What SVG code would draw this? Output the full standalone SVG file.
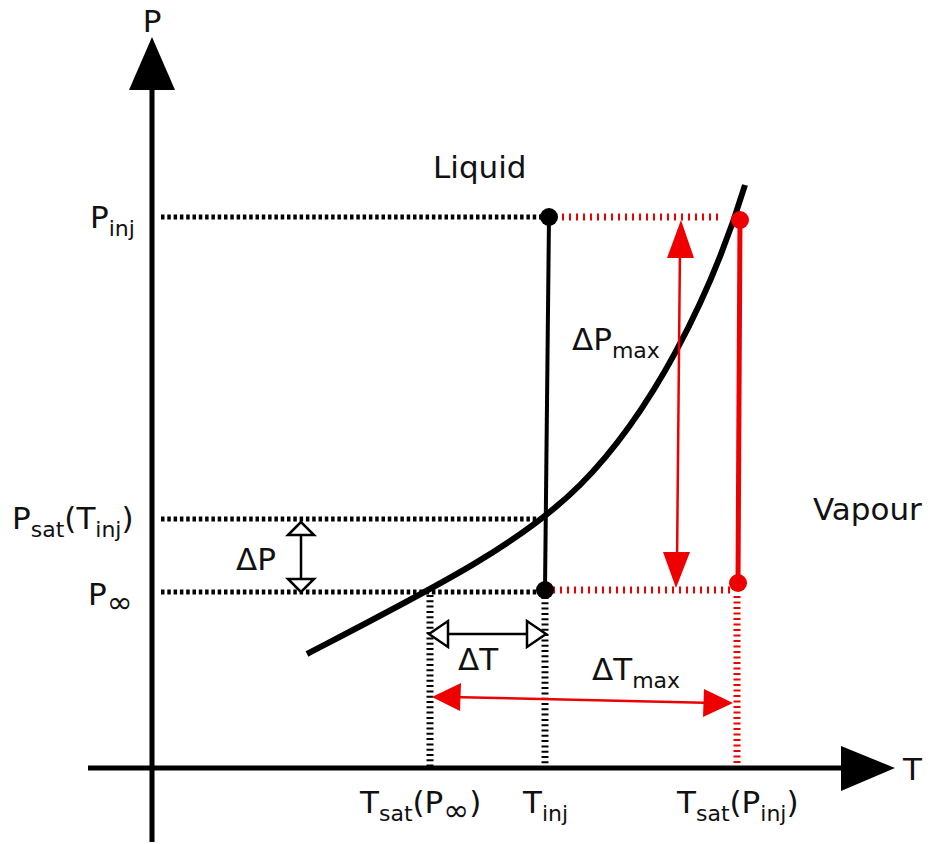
<svg xmlns="http://www.w3.org/2000/svg" width="930" height="844" viewBox="0 0 930 844">
<style>
text{font-family:"DejaVu Sans","Verdana",sans-serif;font-size:31px;fill:#111}
.sub{font-size:22px}
.inf{font-size:31px}
.dotk{stroke:#000;stroke-width:5;stroke-dasharray:3.5 2.8;fill:none}
.dotkv{stroke:#000;stroke-width:7;stroke-dasharray:2 3.3;fill:none}
.dotr{stroke:#e00;stroke-width:7;stroke-dasharray:2 5;fill:none}
.dotrv{stroke:#e00;stroke-width:7;stroke-dasharray:2 3.5;fill:none}
.hollow{fill:#fff;stroke:#000;stroke-width:2.5}
.red{fill:#e00;stroke:none}
</style>
<rect width="930" height="844" fill="#fff"/>
<g id="axes">
<line x1="152" y1="88" x2="152" y2="842" stroke="#000" stroke-width="5"/>
<polygon points="152,37 129,90 175,90" fill="#000"/>
<line x1="88" y1="768" x2="845" y2="768" stroke="#000" stroke-width="5"/>
<polygon points="895,768 841,746 841,791" fill="#000"/>
<text x="152" y="32" text-anchor="middle">P</text>
<text x="903" y="780">T</text>
</g>
<g id="guides">
<line class="dotk" x1="161" y1="217" x2="545" y2="217"/>
<line class="dotk" x1="161" y1="519" x2="545" y2="519"/>
<line class="dotk" x1="161" y1="592" x2="540" y2="592"/>
<line class="dotr" x1="555" y1="217" x2="722" y2="217"/>
<line class="dotr" x1="553" y1="590" x2="735" y2="590"/>
<line class="dotkv" x1="430" y1="595" x2="430" y2="766"/>
<line class="dotkv" x1="545" y1="597" x2="545" y2="766"/>
<line class="dotrv" x1="737" y1="596" x2="737" y2="766"/>
</g>
<g id="saturation-curve">
<path d="M307,654 C430,590 520,545 580,485 C650,415 710,300 745,185" fill="none" stroke="#000" stroke-width="6"/>
</g>
<g id="liquid-line">
<line x1="549" y1="217" x2="545" y2="590" stroke="#000" stroke-width="4"/>
<circle cx="549" cy="217" r="9" fill="#000"/>
<circle cx="545" cy="590" r="9" fill="#000"/>
</g>
<g id="red-line">
<line x1="740" y1="220" x2="738" y2="583" stroke="#e00" stroke-width="5"/>
<circle cx="740" cy="220" r="9" fill="#e00"/>
<circle cx="738" cy="583" r="9" fill="#e00"/>
</g>
<g id="connectors">
<line x1="301" y1="530" x2="301" y2="582" stroke="#000" stroke-width="2.5"/>
<polygon class="hollow" points="301,522 288,535 314,535"/>
<polygon class="hollow" points="301,592 288,579 314,579"/>
<line x1="440" y1="634" x2="535" y2="634" stroke="#000" stroke-width="2.5"/>
<polygon class="hollow" points="429,634 448,621 448,647"/>
<polygon class="hollow" points="546,634 527,621 527,647"/>
<line x1="680" y1="245" x2="677" y2="565" stroke="#e00" stroke-width="2.5"/>
<polygon class="red" points="681,220 667,258 694,258"/>
<polygon class="red" points="676,588 663,552 690,552"/>
<line x1="450" y1="697" x2="715" y2="703" stroke="#e00" stroke-width="2.5"/>
<polygon class="red" points="432,697 461,683 460,711"/>
<polygon class="red" points="733,703 704,689 703,717"/>
</g>
<g id="labels">
<text x="433" y="178">Liquid</text>
<text x="813" y="520">Vapour</text>
<text x="90" y="228">P<tspan class="sub" dy="8">inj</tspan></text>
<text x="12" y="529">P<tspan class="sub" dy="8">sat</tspan><tspan dy="-8">(T</tspan><tspan class="sub" dy="8">inj</tspan><tspan dy="-8">)</tspan></text>
<text x="88" y="605">P<tspan class="inf" dy="8">∞</tspan></text>
<text x="236" y="570">ΔP</text>
<text x="572" y="350">ΔP<tspan class="sub" dy="8">max</tspan></text>
<text x="458" y="670">ΔT</text>
<text x="592" y="680">ΔT<tspan class="sub" dy="8">max</tspan></text>
<text x="360" y="813">T<tspan class="sub" dy="8">sat</tspan><tspan dy="-8">(P</tspan><tspan class="inf" dy="8">∞</tspan><tspan dy="-8">)</tspan></text>
<text x="523" y="813">T<tspan class="sub" dy="8">inj</tspan></text>
<text x="677" y="813">T<tspan class="sub" dy="8">sat</tspan><tspan dy="-8">(P</tspan><tspan class="sub" dy="8">inj</tspan><tspan dy="-8">)</tspan></text>
</g>
</svg>
